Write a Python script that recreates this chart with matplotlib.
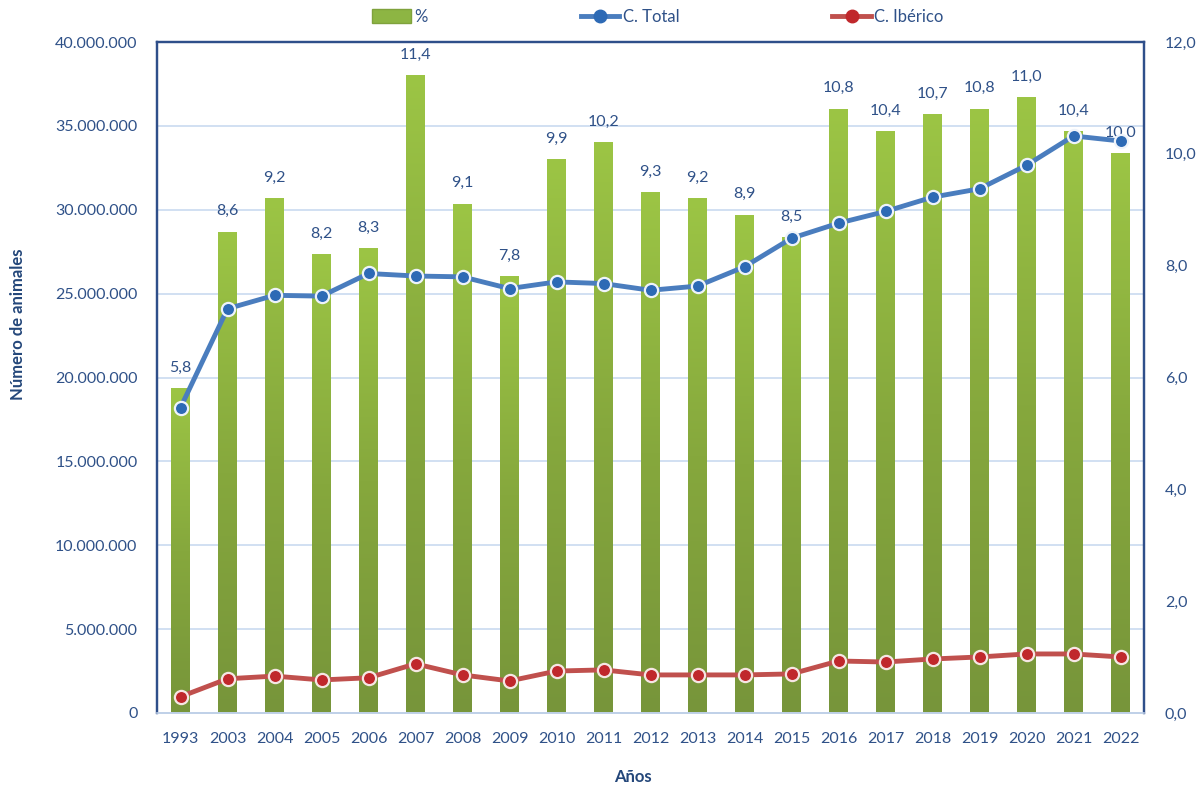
import matplotlib
matplotlib.use("Agg")
import matplotlib.pyplot as plt
import numpy as np
from matplotlib.ticker import FuncFormatter, MultipleLocator
from matplotlib.lines import Line2D
from matplotlib.patches import Patch
from matplotlib.transforms import blended_transform_factory
from matplotlib.colors import LinearSegmentedColormap

plt.rcParams['font.family'] = ['Lato', 'DejaVu Sans']

years = ["1993", "2003", "2004", "2005", "2006", "2007", "2008", "2009", "2010", "2011",
         "2012", "2013", "2014", "2015", "2016", "2017", "2018", "2019", "2020", "2021", "2022"]
pct = [5.8, 8.6, 9.2, 8.2, 8.3, 11.4, 9.1, 7.8, 9.9, 10.2,
       9.3, 9.2, 8.9, 8.5, 10.8, 10.4, 10.7, 10.8, 11.0, 10.4, 10.0]
c_total = [18.2e6, 24.1e6, 24.9e6, 24.85e6, 26.2e6, 26.05e6, 26.0e6, 25.3e6, 25.7e6, 25.6e6,
           25.2e6, 25.45e6, 26.6e6, 28.3e6, 29.2e6, 29.9e6, 30.75e6, 31.25e6, 32.65e6, 34.4e6, 34.1e6]
c_iberico = [0.97e6, 2.04e6, 2.2e6, 1.97e6, 2.1e6, 2.93e6, 2.27e6, 1.91e6, 2.5e6, 2.57e6,
             2.27e6, 2.27e6, 2.27e6, 2.33e6, 3.1e6, 3.04e6, 3.22e6, 3.34e6, 3.52e6, 3.52e6, 3.34e6]

TXT = '#2F5188'
AX = '#2F4F8A'

W, H = 1196, 787
fig = plt.figure(figsize=(W / 100, H / 100), dpi=100)
fig.patch.set_facecolor('white')
rect = [157 / W, 1 - 713 / H, (1144 - 157) / W, (713 - 42) / H]
ax = fig.add_axes(rect)          # left axis: lines
axb = ax.twinx()                 # right axis: bars
ax.set_zorder(axb.get_zorder() + 1)
ax.patch.set_visible(False)

x = np.arange(len(years))

ax.set_xlim(-0.5, len(years) - 0.5)
ax.set_ylim(0, 40e6)
axb.set_ylim(0, 12)
ax.yaxis.set_major_locator(MultipleLocator(5e6))
axb.yaxis.set_major_locator(MultipleLocator(2))

# gridlines (behind bars) at left ticks
tr = blended_transform_factory(axb.transAxes, ax.transData)
for v in np.arange(5e6, 40e6 + 1, 5e6):
    axb.plot([0, 1], [v, v], transform=tr, color='#C9DAF0', lw=1.2, zorder=0)

# gradient bars
bw = 0.4
grad = np.linspace(0, 1, 256).reshape(-1, 1)
cmap = LinearSegmentedColormap.from_list('g', ['#77953A', '#86A83D', '#9CC545'])
for xi, p in zip(x, pct):
    axb.imshow(grad, extent=[xi - bw / 2, xi + bw / 2, 0, p], origin='lower',
               cmap=cmap, aspect='auto', zorder=1, interpolation='bilinear')
    axb.text(xi, p + 0.25, f"{p:.1f}".replace('.', ','), ha='center', va='bottom',
             fontsize=11.5, color=TXT, zorder=2)
axb.set_xlim(-0.5, len(years) - 0.5)
axb.set_ylim(0, 12)

# lines
ax.plot(x, c_total, color='#4A7DBE', lw=3.5, marker='o', ms=9.5,
        markerfacecolor='#2D6AB5', markeredgecolor='#EEF3FA', markeredgewidth=1.6,
        zorder=3, solid_capstyle='round')
ax.plot(x, c_iberico, color='#C0504D', lw=3.5, marker='o', ms=9.5,
        markerfacecolor='#C0282C', markeredgecolor='#F6E6E4', markeredgewidth=1.6,
        zorder=3, solid_capstyle='round')

# ticks / labels
ax.set_xticks(x)
ax.set_xticklabels(years)
ax.yaxis.set_major_formatter(FuncFormatter(lambda v, p: f"{v:,.0f}".replace(',', '.')))
axb.yaxis.set_major_formatter(FuncFormatter(lambda v, p: f"{v:.1f}".replace('.', ',')))
ax.tick_params(axis='x', length=0, pad=14, labelsize=11.5, labelcolor=TXT)
ax.tick_params(axis='y', length=0, pad=14, labelsize=11.5, labelcolor=TXT)
axb.tick_params(axis='y', length=0, pad=15, labelsize=11.5, labelcolor=TXT)

for a in (ax, axb):
    for s in ('left', 'right', 'top'):
        a.spines[s].set_color(AX)
        a.spines[s].set_linewidth(1.6)
    a.spines['bottom'].set_color('#BFD0E8')
    a.spines['bottom'].set_linewidth(1.2)

ax.set_ylabel('Número de animales', fontsize=12, fontweight='bold', color='#24477A', labelpad=0)
ax.yaxis.set_label_coords(-0.133, 0.58)
ax.set_xlabel('Años', fontsize=12, fontweight='bold', color='#24477A')
ax.xaxis.set_label_coords(0.482, -0.083)

# legend
handles = [
    Patch(facecolor='#8DB543', edgecolor='#7FA23C'),
    Line2D([0], [0], color='#4A7DBE', lw=3.5, marker='o', ms=9, markerfacecolor='#2D6AB5',
           markeredgecolor='#2D6AB5'),
    Line2D([0], [0], color='#C0504D', lw=3.5, marker='o', ms=9, markerfacecolor='#C0282C',
           markeredgecolor='#C0282C'),
]
leg = fig.legend(handles, ['%', 'C. Total', 'C. Ibérico'], loc='center',
                 bbox_to_anchor=(658 / W, 1 - 17 / H), ncol=3, frameon=False,
                 fontsize=12, handlelength=2.3, handletextpad=0.2, columnspacing=9.2,
                 labelcolor=TXT, handleheight=0.9)

fig.savefig('out.png', dpi=100, facecolor='white')
